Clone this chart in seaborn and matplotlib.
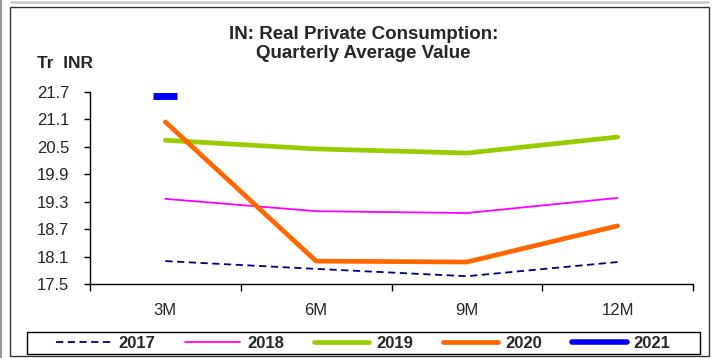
import matplotlib
matplotlib.use("Agg")
import matplotlib.pyplot as plt
from matplotlib.patches import Rectangle
from matplotlib.lines import Line2D
import seaborn as sns
import pandas as pd

periods = ["3M", "6M", "9M", "12M"]
y2017 = [18.00, 17.83, 17.67, 17.98]
y2018 = [19.36, 19.09, 19.05, 19.38]
y2019 = [20.64, 20.45, 20.36, 20.71]
y2020 = [21.04, 18.00, 17.98, 18.77]
y2021 = [21.60]
yticks = [17.5, 18.1, 18.7, 19.3, 19.9, 20.5, 21.1, 21.7]

series = {"2017": y2017, "2018": y2018, "2019": y2019, "2020": y2020, "2021": y2021}
rows = []
for year, vals in series.items():
    for i, v in enumerate(vals):
        rows.append({"year": year, "pos": i, "value": v})
df = pd.DataFrame(rows)

styles = {
    "2017": dict(color="#000080", lw=1.3, ls=(0, (4, 2.5))),
    "2018": dict(color="#FF00FF", lw=1.3, ls="-"),
    "2019": dict(color="#99CC00", lw=3.4, ls="-"),
    "2020": dict(color="#FF6600", lw=3.4, ls="-"),
    "2021": dict(color="#0000FF", lw=4.0, ls="-"),
}

sns.set_theme(style="white")
plt.rcParams["font.family"] = ["Liberation Sans", "DejaVu Sans"]

fig = plt.figure(figsize=(7.12, 3.58), dpi=100)
ax = fig.add_axes([90 / 712, 1 - 284 / 358, (693 - 90) / 712, (284 - 91.7) / 358])

for year in series:
    sub = df[df["year"] == year]
    st = styles[year]
    if len(sub) > 1:
        sns.lineplot(data=sub, x="pos", y="value", ax=ax, color=st["color"],
                     linewidth=st["lw"], linestyle=st["ls"], legend=False,
                     solid_capstyle="round")
    else:
        # a lone point shows as a short thick dash
        sns.lineplot(data=sub, x="pos", y="value", ax=ax, color=st["color"],
                     linewidth=st["lw"], legend=False, marker="_",
                     markersize=17, markeredgewidth=5,
                     markeredgecolor=st["color"])

ax.set_xlim(-0.5, 3.5)
ax.set_ylim(17.5, 21.7)
ax.set_yticks(yticks)
ax.set_yticklabels([f"{t:.1f}" for t in yticks])
ax.set_xticks(range(len(periods)))
ax.set_xticklabels(periods)
ax.set_xticks([-0.5, 0.5, 1.5, 2.5, 3.5], minor=True)
ax.tick_params(axis="x", which="major", bottom=False, length=0, pad=14, labelsize=12)
ax.tick_params(axis="x", which="minor", bottom=True, length=5, width=1,
               direction="out", color="black")
ax.tick_params(axis="y", left=True, length=4, width=1, direction="out", color="black",
               labelsize=12, pad=11)
ax.set_xlabel("")
ax.set_ylabel("")
for side in ["top", "right"]:
    ax.spines[side].set_visible(False)
for side in ["left", "bottom"]:
    ax.spines[side].set_color("black")
    ax.spines[side].set_linewidth(1)
ax.grid(False)

handles = [Line2D([], [], color=styles[y]["color"], lw=styles[y]["lw"],
                  ls=styles[y]["ls"], solid_capstyle="round") for y in series]
leg = fig.legend(handles, list(series), loc="center", ncol=5,
                 bbox_to_anchor=(363.5 / 712, 1 - 343 / 358),
                 frameon=False, handlelength=3.3, handletextpad=0.42,
                 columnspacing=1.8, borderaxespad=0, borderpad=0,
                 prop={"weight": "bold", "size": 12})
fig.add_artist(Rectangle((27 / 712, 1 - 354 / 358), 673 / 712, 22 / 358,
                         transform=fig.transFigure, fill=False,
                         edgecolor="black", linewidth=1))

fig.text(363.5 / 712, 1 - 44 / 358, "IN: Real Private Consumption:\nQuarterly Average Value",
         ha="center", va="center", fontsize=13.5, fontweight="bold", linespacing=1.15)
fig.text(37 / 712, 1 - 64 / 358, "Tr  INR", ha="left", va="center",
         fontsize=12.5, fontweight="bold")

# outer frame around the chart
fig.add_artist(Rectangle((10 / 712, 2 / 358), 699 / 712, 349 / 358, transform=fig.transFigure,
                         fill=False, edgecolor="#333333", linewidth=1))
fig.add_artist(Rectangle((1 / 712, 0), 0, 1, transform=fig.transFigure,
                         fill=False, edgecolor="#999999", linewidth=1.5))
fig.add_artist(Rectangle((10 / 712, 1 - 2 / 358), 699 / 712, 0, transform=fig.transFigure,
                         fill=False, edgecolor="#cccccc", linewidth=2))

fig.savefig("out.png", dpi=100)
